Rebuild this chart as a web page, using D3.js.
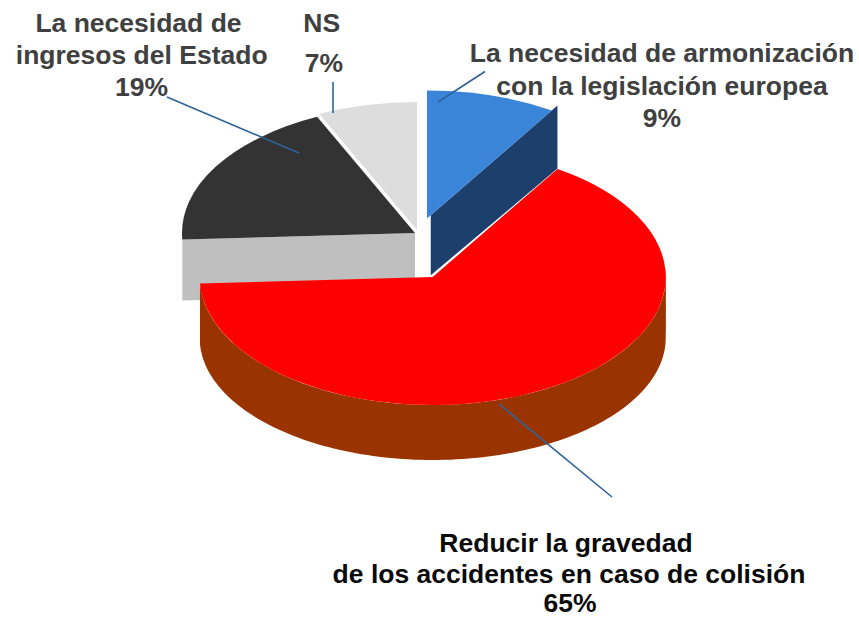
<!DOCTYPE html>
<html>
<head>
<meta charset="utf-8">
<script src="https://cdn.jsdelivr.net/npm/d3@7/dist/d3.min.js"></script>
<style>
html,body{margin:0;padding:0;background:#fff;}
svg{display:block;}
text{font-family:"Liberation Sans",Arial,sans-serif;font-weight:700;font-size:26.5px;}
</style>
</head>
<body>
<svg id="chart" width="859" height="618"></svg>
<script>
// Data
const categories = [
  ["La necesidad de armonización", "con la legislación europea"],
  ["Reducir la gravedad", "de los accidentes en caso de colisión"],
  ["La necesidad de", "ingresos del Estado"],
  ["NS"]
];
const values = [9, 65.2, 18.9, 6.9];

// Layout
const topColors  = ["#3a85d8", "#ff0000", "#333333", "#dddddd"];
const wallColors = ["#1c3f6b", "#993300", "#bfbfbf", "#c8c8c8"];
const textColors = ["#404040", "#0a0a0a", "#404040", "#404040"];
const leaderColor = "#2e6399";
const rx = 233, ry = 128, ryBottom = 122, drop = 61;
const centers = [[427, 218.5], [432.7, 277], [415, 233], [417, 230]];
// x, baseline of each text line of each label (the last one is the percentage)
const labelLines = [
  [[662, 62], [662, 95], [662, 127]],
  [[566, 552], [569, 583], [570, 612]],
  [[138.5, 32], [141.7, 64], [141.5, 96]],
  [[321.7, 32], [324, 72]]
];
const leaders = [[[438, 102], [485, 71.5]], [[499, 404], [612, 497]], [[299, 153], [167, 97]], [[333, 113], [333, 82]]];

const pie = d3.pie().value(d => d).sort(null);
const arcs = pie(values);
const svg = d3.select("#chart");
const arc = d3.arc().innerRadius(0).outerRadius(rx);
const fmt = d3.format(".0f");

// angle measured clockwise from the top of the ellipse
const rim = (c, a, yr, dy = 0) => [c[0] + rx * Math.sin(a), c[1] + dy - yr * Math.cos(a)];
const line = d3.line();

function drawTop(i) {
  svg.append("path")
    .attr("d", arc(arcs[i]))
    .attr("transform", `translate(${centers[i][0]},${centers[i][1]}) scale(1,${ry / rx})`)
    .attr("fill", topColors[i]);
}
// flat face cut along the radius at angle a, between fractions t0 and t1 of the radius
function drawCut(i, a, t0, t1, d0, d1) {
  const c = centers[i];
  const o = rim(c, a, ry);
  const at = t => [c[0] + (o[0] - c[0]) * t, c[1] + (o[1] - c[1]) * t];
  const p = at(t0), q = at(t1);
  const pts = [p, q, [q[0], q[1] + d1], [p[0], p[1] + d0]];
  svg.append("path").attr("d", line(pts) + "Z").attr("fill", wallColors[i]);
}
// outer curved wall between two angles
function drawRim(i, a0, a1) {
  const c = centers[i];
  const as = d3.range(0, 121).map(k => a0 + (a1 - a0) * k / 120);
  const upper = as.map(a => rim(c, a, ry));
  const lower = as.map(a => rim(c, a, ryBottom, drop)).reverse();
  svg.append("path").attr("d", line(upper.concat(lower)) + "Z").attr("fill", wallColors[i]);
}

// back to front
drawTop(3);
drawCut(2, arcs[2].startAngle, 0, 1, 61, 61);
drawTop(2);
drawCut(0, arcs[0].endAngle, 0.03, 1.045, 60, 63);
drawTop(0);
drawRim(1, Math.PI / 2, arcs[1].endAngle);
drawRim(1, 1.5, Math.PI / 2 + 0.01);
drawTop(1);

// leaders
leaders.forEach(l => {
  svg.append("path").attr("d", line(l))
    .attr("fill", "none").attr("stroke", leaderColor).attr("stroke-width", 1.6);
});

// labels
categories.forEach((lines, i) => {
  lines.concat([fmt(values[i]) + "%"]).forEach((s, k) => {
    svg.append("text").attr("text-anchor", "middle")
      .attr("x", labelLines[i][k][0]).attr("y", labelLines[i][k][1])
      .attr("fill", textColors[i]).text(s);
  });
});
</script>
</body>
</html>
